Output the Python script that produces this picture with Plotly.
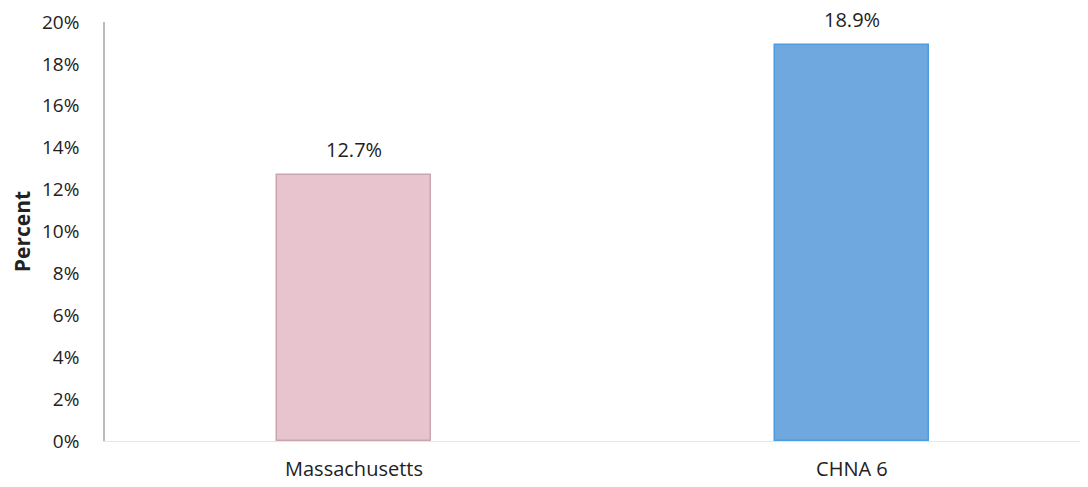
import plotly.graph_objects as go

categories = ["Massachusetts", "CHNA 6"]
values = [12.7, 18.9]
labels = ["12.7%", "18.9%"]
colors = ["#E8C4CE", "#6FA8DE"]
line_colors = ["#C9A5AE", "#4D9CE2"]
y_ticks = [0, 2, 4, 6, 8, 10, 12, 14, 16, 18, 20]
y_tick_text = [f"{t}%" for t in y_ticks]

fig = go.Figure(
    go.Bar(
        x=categories,
        y=values,
        marker=dict(color=colors, line=dict(color=line_colors, width=1.5)),
        width=0.31,
        hoverinfo="skip",
    )
)

for c, v, t in zip(categories, values, labels):
    fig.add_annotation(
        x=c, y=v, text=t, showarrow=False, yanchor="bottom", yshift=10,
        font=dict(size=20, color="#222222"),
    )

fig.update_layout(
    width=1080,
    height=479,
    margin=dict(l=97, r=3, t=14, b=46, autoexpand=False),
    paper_bgcolor="white",
    plot_bgcolor="white",
    font=dict(family="Open Sans, Liberation Sans, sans-serif", size=20, color="#222222"),
    showlegend=False,
    bargap=0,
)

fig.update_xaxes(
    range=[-0.5, 1.468],
    automargin=False,
    showgrid=False,
    showline=True,
    linecolor="#E6E6E6",
    linewidth=1,
    ticks="outside",
    ticklen=10,
    tickcolor="rgba(0,0,0,0)",
    tickfont=dict(size=20),
)

fig.update_yaxes(
    range=[0, 20],
    automargin=False,
    tickvals=y_ticks,
    ticktext=y_tick_text,
    showgrid=False,
    zeroline=False,
    showline=True,
    linecolor="#BBBBBB",
    linewidth=1.5,
    ticks="outside",
    ticklen=20,
    tickcolor="rgba(0,0,0,0)",
    tickfont=dict(size=19),
    title=dict(text="<b>Percent</b>", font=dict(size=21), standoff=8),
)

fig.write_html("out.html")
